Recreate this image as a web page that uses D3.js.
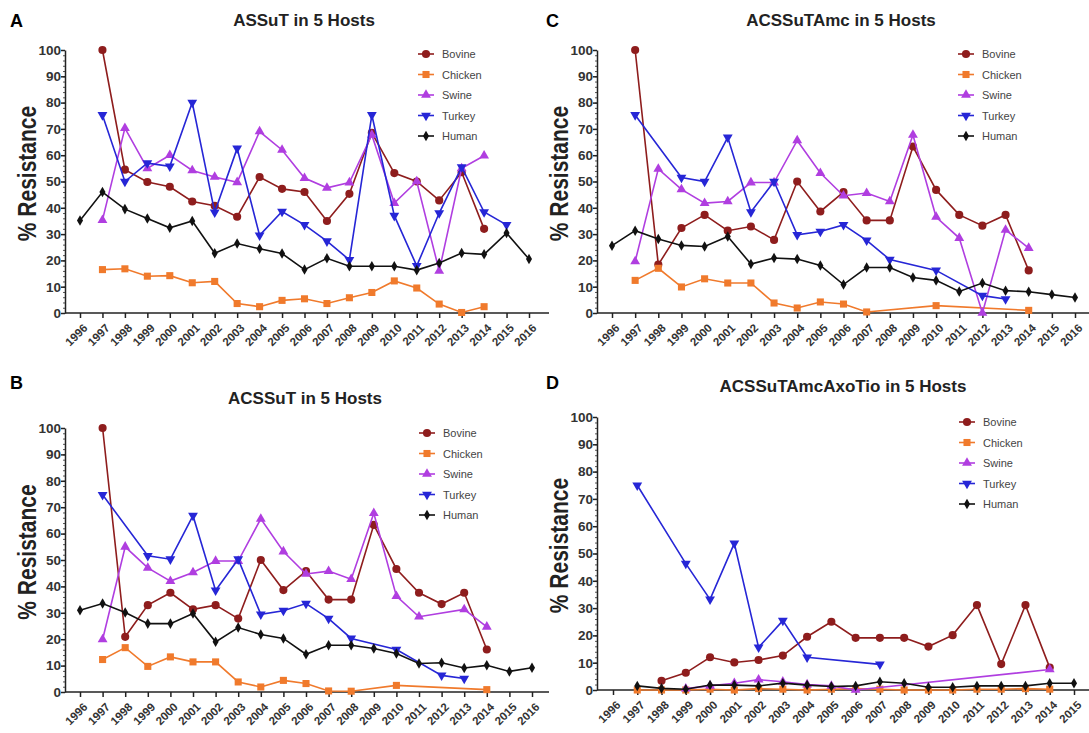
<html>
<head>
<script src="https://d3js.org/d3.v7.min.js"></script>
<style>
    body { margin: 0; background: #fff; }
    text { font-family: "Liberation Sans", Arial, sans-serif; }
</style>
</head>
<body>
<svg id="chart" width="1089" height="733"></svg>
<script>
    const hosts = ["Bovine", "Chicken", "Swine", "Turkey", "Human"];
    const hostColors = ["#8e1d1d", "#f07a2c", "#b03ee0", "#2626d6", "#111111"];
    const yTicks = [0, 10, 20, 30, 40, 50, 60, 70, 80, 90, 100];

    const yearsABC = d3.range(1996, 2017);
    const yearsD = d3.range(1996, 2016);

    // A: ASSuT
    const assutBovine = [null, 100, 54.5, 49.8, 48, 42.4, 40.8, 36.6, 51.7, 47.2, 46, 35, 45.3, 68.5, 53.2, 50, 42.8, 53.5, 32, null, null];
    const assutChicken = [null, 16.5, 16.8, 14, 14.2, 11.5, 12, 3.6, 2.4, 4.8, 5.4, 3.6, 5.8, 7.8, 12.2, 9.5, 3.4, 0.2, 2.4, null, null];
    const assutSwine = [null, 35.3, 70.3, 55, 60, 54.2, 51.7, 49.7, 69, 62, 51.3, 47.6, 49.6, 67.7, 41.8, 50, 16, 55, 59.8, null, null];
    const assutTurkey = [null, 75.3, 50, 57, 55.8, 80, 38.3, 62.6, 29.5, 38.6, 33.5, 27.3, 20.2, 75.3, 37, 17.9, 38, 55.5, 38.4, 33.5, null];
    const assutHuman = [35.2, 46, 39.5, 35.9, 32.4, 35, 22.7, 26.4, 24.4, 22.6, 16.5, 20.8, 17.8, 17.8, 17.8, 16.3, 19, 22.8, 22.3, 30.4, 20.5];

    // B: ACSSuT
    const acssutBovine = [null, 100, 20.9, 32.9, 37.6, 31.3, 32.9, 27.8, 50, 38.6, 45.8, 35, 35, 63.3, 46.6, 37.6, 33.3, 37.6, 16.1, null, null];
    const acssutChicken = [null, 12.3, 16.8, 9.7, 13.3, 11.4, 11.4, 3.8, 1.9, 4.4, 3.2, 0.4, 0.3, null, 2.5, null, null, null, 0.9, null, null];
    const acssutSwine = [null, 19.9, 55, 47, 42, 45.3, 49.6, 49.6, 65.6, 53.2, 44.7, 45.8, 42.7, 67.7, 36.3, 28.5, null, 31.3, 24.7, null, null];
    const acssutTurkey = [null, 74.7, null, 51.6, 50.3, 66.8, 38.5, 50.3, 29.4, 30.8, 33.5, 27.8, 20.3, null, 16.1, null, 6.3, 5.1, null, null, null];
    const acssutHuman = [31, 33.5, 30.1, 25.9, 25.9, 29.7, 19, 24.4, 21.8, 20.3, 14.3, 17.7, 17.7, 16.5, 14.6, 10.8, 11.1, 9.1, 10.1, 7.8, 9.2];

    // C: ACSSuTAmc
    const amcBovine = [null, 100, 18.4, 32.3, 37.3, 31.3, 32.9, 27.8, 50, 38.6, 46, 35.2, 35.2, 63.3, 46.8, 37.3, 33.2, 37.3, 16.2, null, null];
    const amcChicken = [null, 12.4, 17, 9.9, 13, 11.4, 11.4, 3.8, 1.9, 4.2, 3.4, 0.4, null, null, 2.8, null, null, null, 1, null, null];
    const amcSwine = [null, 19.6, 54.8, 47, 41.8, 42.4, 49.6, 49.6, 65.6, 53.2, 44.6, 45.6, 42.4, 67.7, 36.5, 28.5, 0, 31.6, 24.7, null, null];
    const amcTurkey = [null, 75.3, null, 51.5, 50, 66.8, 38.4, 50, 29.7, 31, 33.5, 27.6, 20.3, null, 16.2, null, 6.6, 5.3, null, null, null];
    const amcHuman = [25.6, 31.3, 28.1, 25.7, 25.3, 29.1, 18.6, 20.9, 20.5, 18.1, 10.8, 17.3, 17.3, 13.5, 12.4, 8.2, 11.4, 8.5, 8.1, 7, 5.9];

    // D: ACSSuTAmcAxoTio
    const axoBovine = [null, null, 3.4, 6.3, 12, 10.1, 11, 12.6, 19.5, 25, 19.1, 19.1, 19.1, 15.9, 20.1, 31.1, 9.5, 31.1, 8.2, null];
    const axoChicken = [null, 0, 0, 0, 0.3, 0, 0.5, 0.3, 0, 0.3, 0.5, 0.3, 0, 0, 0, 0.3, 0.3, 0.5, 0.3, null];
    const axoSwine = [null, null, null, 0.5, 1.5, 2.5, 3.8, 3, 2, 1.5, 0, null, null, null, null, null, null, null, 7.5, null];
    const axoTurkey = [null, 75, null, 46.3, 33.2, 53.7, 15.6, 25.4, 12, null, null, 9.4, null, null, null, null, null, null, null, null];
    const axoHuman = [null, 1.5, 0.6, 0.3, 1.8, 1.8, 1.5, 2.5, 1.8, 1.3, 1.5, 3, 2.5, 1, 1, 1.5, 1.5, 1.5, 2.5, 2.5];

    const panels = [
        { letter: "A", title: "ASSuT in 5 Hosts", years: yearsABC, series: [assutBovine, assutChicken, assutSwine, assutTurkey, assutHuman],
          axisX: 65, axisEnd: 549, xStart: 80, xEnd: 529, yTop: 50, yBottom: 313, titleX: 304, titleY: 26, letterX: 10, letterY: 27, legX: 427, legY: 54 },
        { letter: "C", title: "ACSSuTAmc in 5 Hosts", years: yearsABC, series: [amcBovine, amcChicken, amcSwine, amcTurkey, amcHuman],
          axisX: 597, axisEnd: 1089, xStart: 612, xEnd: 1075, yTop: 50, yBottom: 313, titleX: 841, titleY: 26, letterX: 546, letterY: 27, legX: 967, legY: 54 },
        { letter: "B", title: "ACSSuT in 5 Hosts", years: yearsABC, series: [acssutBovine, acssutChicken, acssutSwine, acssutTurkey, acssutHuman],
          axisX: 65, axisEnd: 549, xStart: 80, xEnd: 532, yTop: 428, yBottom: 692, titleX: 305, titleY: 404, letterX: 10, letterY: 389, legX: 428, legY: 433 },
        { letter: "D", title: "ACSSuTAmcAxoTio in 5 Hosts", years: yearsD, series: [axoBovine, axoChicken, axoSwine, axoTurkey, axoHuman],
          axisX: 597, axisEnd: 1089, xStart: 613, xEnd: 1074, yTop: 417, yBottom: 690, titleX: 843, titleY: 392, letterX: 546, letterY: 389, legX: 968, legY: 422 }
    ];

    const svg = d3.select("#chart");

    const symbolTypes = [d3.symbolCircle, d3.symbolSquare, d3.symbolTriangle, d3.symbolTriangle, d3.symbolDiamond];
    const symbolRotate = [0, 0, 0, 180, 0];
    const symbolSizes = [52, 50, 42, 42, 32];

    function drawMarker(g, i, x, y) {
        g.append("path")
            .attr("d", d3.symbol().type(symbolTypes[i]).size(symbolSizes[i])())
            .attr("transform", `translate(${x},${y}) rotate(${symbolRotate[i]})`)
            .attr("fill", hostColors[i]);
    }

    panels.forEach(p => {
        const g = svg.append("g");
        const x = d3.scaleLinear().domain([p.years[0], p.years[p.years.length - 1]]).range([p.xStart, p.xEnd]);
        const y = d3.scaleLinear().domain([0, 100]).range([p.yBottom, p.yTop]);

        // panel letter and title
        g.append("text").attr("x", p.letterX).attr("y", p.letterY)
            .style("font-size", "18px").style("font-weight", "bold").text(p.letter);
        g.append("text").attr("x", p.titleX).attr("y", p.titleY).attr("text-anchor", "middle")
            .style("font-size", "17px").style("font-weight", "bold").attr("fill", "#222").text(p.title);

        // y axis label
        g.append("text")
            .attr("transform", `translate(${p.axisX - 29},${(p.yTop + p.yBottom) / 2 - 8}) rotate(-90) scale(1,1.2)`)
            .attr("text-anchor", "middle")
            .style("font-size", "21px").style("font-weight", "bold").attr("fill", "#222")
            .text("% Resistance");

        // minor y ticks
        const minor = g.append("g").attr("transform", `translate(${p.axisX},0)`)
            .call(d3.axisLeft(y).tickValues(d3.range(0, 101, 2)).tickSize(2).tickFormat(""));
        minor.select(".domain").remove();
        minor.selectAll("line").attr("stroke", "#555");

        const yAxis = g.append("g").attr("transform", `translate(${p.axisX},0)`)
            .call(d3.axisLeft(y).tickValues(yTicks).tickSize(4).tickSizeOuter(0));
        yAxis.select(".domain").attr("stroke", "#222").attr("stroke-width", 1.5);
        yAxis.selectAll(".tick line").attr("stroke", "#222").attr("stroke-width", 1.5);
        yAxis.selectAll("text").style("font-size", "13.5px").style("font-weight", "bold")
            .attr("fill", "#333").attr("x", -4);

        // x axis
        g.append("line").attr("x1", p.axisX).attr("x2", p.axisEnd)
            .attr("y1", p.yBottom).attr("y2", p.yBottom)
            .attr("stroke", "#222").attr("stroke-width", 1.5);
        const xAxis = g.append("g").attr("transform", `translate(0,${p.yBottom})`)
            .call(d3.axisBottom(x).tickValues(p.years).tickFormat(d3.format("d")).tickSize(5).tickSizeOuter(0));
        xAxis.select(".domain").remove();
        xAxis.selectAll(".tick line").attr("stroke", "#222").attr("stroke-width", 1.5);
        xAxis.selectAll("text")
            .style("font-size", "11.5px").style("font-weight", "bold").attr("fill", "#333")
            .attr("text-anchor", "end")
            .attr("transform", "translate(2,10) rotate(-45)")
            .attr("x", 0).attr("y", 0).attr("dy", "0.7em");

        // series
        p.series.forEach((vals, i) => {
            const pts = p.years.map((yr, k) => ({ yr: yr, v: vals[k] })).filter(d => d.v !== null);
            g.append("path")
                .datum(pts)
                .attr("fill", "none")
                .attr("stroke", hostColors[i])
                .attr("stroke-width", 1.6)
                .attr("d", d3.line().x(d => x(d.yr)).y(d => y(d.v)));
            pts.forEach(d => drawMarker(g, i, x(d.yr), y(d.v)));
        });

        // legend
        hosts.forEach((h, i) => {
            const ly = p.legY + i * 20.5;
            g.append("line").attr("x1", p.legX - 9).attr("x2", p.legX + 7)
                .attr("y1", ly).attr("y2", ly)
                .attr("stroke", hostColors[i]).attr("stroke-width", 1.6);
            drawMarker(g, i, p.legX - 1, ly);
            g.append("text").attr("x", p.legX + 15).attr("y", ly + 4)
                .style("font-size", "11px").attr("fill", "#444").text(h);
        });
    });
</script>
</body>
</html>
